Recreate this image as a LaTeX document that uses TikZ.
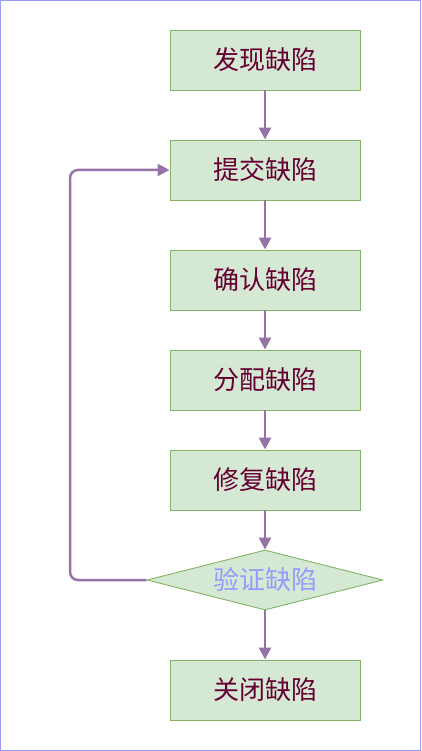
\documentclass[tikz,border=0pt]{standalone}
\usepackage{fontspec}
\newfontfamily\cjk{Noto Sans CJK SC}
\usetikzlibrary{shapes.geometric,arrows.meta}
\definecolor{boxfill}{HTML}{D5E8D4}
\definecolor{boxline}{HTML}{82B366}
\definecolor{arrowc}{HTML}{9673A6}
\definecolor{txtc}{HTML}{660033}
\definecolor{frame}{HTML}{9999FF}
\tikzset{
  stepbox/.style={draw=boxline, fill=boxfill, line width=0.9pt, minimum width=190pt, minimum height=60pt, inner sep=0pt, text=txtc, font=\cjk\fontsize{26}{26}\selectfont},
  decide/.style={draw=boxline, fill=boxfill, line width=0.9pt, diamond, aspect=3.93, minimum width=236pt, minimum height=60pt, inner sep=0pt, text=frame, font=\cjk\fontsize{26}{26}\selectfont},
  flow/.style={draw=arrowc, line width=2.5pt, -{Triangle[length=12pt,width=12pt]}}
}
\begin{document}
\begin{tikzpicture}[x=1pt,y=-1pt]
\draw[frame, line width=1pt] (0.5,0.5) rectangle (420.5,750.5);
\useasboundingbox (0,0) rectangle (421,751);
\node[stepbox] (a) at (265,60) {发现缺陷};
\node[stepbox] (b) at (265,170) {提交缺陷};
\node[stepbox] (c) at (265,280) {确认缺陷};
\node[stepbox] (d) at (265,380) {分配缺陷};
\node[stepbox] (e) at (265,480) {修复缺陷};
\node[decide] (f) at (265,580) {验证缺陷};
\node[stepbox] (g) at (265,690) {关闭缺陷};
\coordinate (lb) at (70,580);
\coordinate (lt) at (70,170);
\draw[flow] (a) -- (b);
\draw[flow] (b) -- (c);
\draw[flow] (c) -- (d);
\draw[flow] (d) -- (e);
\draw[flow] (e) -- (f);
\draw[flow] (f) -- (g);
\draw[flow, rounded corners=8pt] (f.west) -- (lb) -- (lt) -- (b.west);
\end{tikzpicture}
\end{document}
